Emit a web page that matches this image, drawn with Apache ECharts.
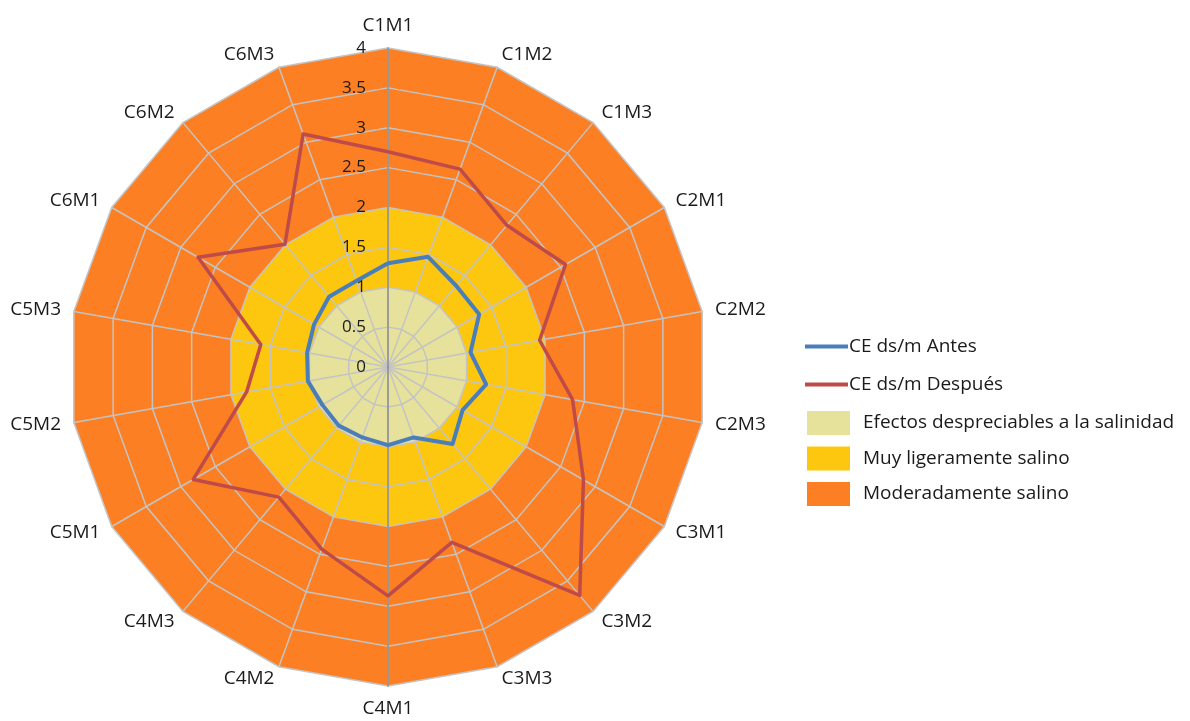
<!DOCTYPE html>
<html>
<head>
<meta charset="utf-8">
<script src="https://cdn.jsdelivr.net/npm/echarts@6/dist/echarts.min.js"></script>
<style>
html,body{margin:0;padding:0;background:#fff;}
#chart{width:1190px;height:721px;}
</style>
</head>
<body>
<div id="chart"></div>
<script>
const categories = ['C1M1','C1M2','C1M3','C2M1','C2M2','C2M3','C3M1','C3M2','C3M3','C4M1','C4M2','C4M3','C5M1','C5M2','C5M3','C6M1','C6M2','C6M3'];
const antes   = [1.30,1.47,1.33,1.32,1.05,1.25,1.08,1.26,0.94,0.98,0.94,0.96,0.95,1.02,1.03,1.07,1.15,1.15];
const despues = [2.70,2.64,2.32,2.57,1.93,2.35,2.83,3.74,2.34,2.87,2.43,2.13,2.82,1.80,1.62,2.75,2.01,3.11];
const bandDespreciable = [1,1,1,1,1,1,1,1,1,1,1,1,1,1,1,1,1,1];
const bandLigero       = [2,2,2,2,2,2,2,2,2,2,2,2,2,2,2,2,2,2];
const bandModerado     = [4,4,4,4,4,4,4,4,4,4,4,4,4,4,4,4,4,4];
const tickLabels = ['0','0.5','1','1.5','2','2.5','3','3.5','4'];
const axisMax = 4;

const FONT = 'Open Sans';
const CX = 388, CY = 367, R = 319;

// ECharts radar runs counter-clockwise; reorder so categories run clockwise from the top
const order = categories.map((_, i) => (categories.length - i) % categories.length);
const cw = arr => order.map(i => arr[i]);

const chart = echarts.init(document.getElementById('chart'), null, {renderer:'canvas'});

function tickFmt(v){
  const i = Math.round(v / 0.5);
  return tickLabels[i] !== undefined ? tickLabels[i] : '';
}

const option = {
  backgroundColor: '#ffffff',
  animation: false,
  legend: [
    {
      orient: 'vertical', left: 800, top: 332, itemGap: 19,
      itemWidth: 43, itemHeight: 4, icon: 'rect',
      textStyle: {fontFamily: FONT, fontSize: 19, color: '#1a1a1a', padding: [0,0,0,-4]},
      data: ['CE ds/m Antes', 'CE ds/m Después']
    },
    {
      orient: 'vertical', left: 802, top: 406, itemGap: 11.5,
      itemWidth: 43, itemHeight: 24, icon: 'rect',
      textStyle: {fontFamily: FONT, fontSize: 19, color: '#1a1a1a', padding: [0,0,0,8]},
      data: ['Efectos despreciables a la salinidad', 'Muy ligeramente salino', 'Moderadamente salino']
    }
  ],
  radar: [
    {
      center: [CX, CY], radius: R, startAngle: 90, shape: 'polygon',
      splitNumber: 8, z: 2,
      indicator: cw(categories).map(c => ({name: c, min: 0, max: axisMax})),
      axisName: {color: '#1a1a1a', fontSize: 19, fontFamily: FONT},
      nameGap: 13,
      axisLine: {lineStyle: {color: '#c4c4c4', width: 1.5}},
      splitLine: {lineStyle: {color: '#c4c4c4', width: 1.5}},
      splitArea: {show: false},
      axisTick: {show: false},
      axisLabel: {show: false}
    },
    {
      center: [CX, CY], radius: R, startAngle: 90, shape: 'polygon',
      splitNumber: 8, z: 2.5,
      indicator: [{name: '', min: 0, max: axisMax}],
      axisName: {show: false},
      axisLine: {lineStyle: {color: '#8c8c8c', width: 1.5}},
      splitLine: {show: false},
      splitArea: {show: false},
      axisTick: {show: false},
      axisLabel: {show: true, color: '#1a1a1a', fontSize: 17, fontFamily: FONT, formatter: tickFmt, margin: 22}
    },
    {
      center: [CX, CY], radius: R, startAngle: 270, shape: 'polygon',
      splitNumber: 8, z: 2.5,
      indicator: [{name: '', min: 0, max: axisMax}],
      axisName: {show: false},
      axisLine: {lineStyle: {color: '#8c8c8c', width: 1.5}},
      splitLine: {show: false},
      splitArea: {show: false},
      axisTick: {show: false},
      axisLabel: {show: false}
    }
  ],
  series: [
    {
      type: 'radar', radarIndex: 0, z: 1, symbol: 'none', silent: true,
      data: [
        {name: 'Moderadamente salino', value: cw(bandModerado),
          itemStyle: {color: '#fc7f24'}, lineStyle: {width: 0, color: '#fc7f24'}, areaStyle: {color: '#fc7f24', opacity: 1}}
      ]
    },
    {
      type: 'radar', radarIndex: 0, z: 1, symbol: 'none', silent: true,
      data: [
        {name: 'Muy ligeramente salino', value: cw(bandLigero),
          itemStyle: {color: '#fdc70f'}, lineStyle: {width: 0, color: '#fdc70f'}, areaStyle: {color: '#fdc70f', opacity: 1}}
      ]
    },
    {
      type: 'radar', radarIndex: 0, z: 1, symbol: 'none', silent: true,
      data: [
        {name: 'Efectos despreciables a la salinidad', value: cw(bandDespreciable),
          itemStyle: {color: '#e6e29b'}, lineStyle: {width: 0, color: '#e6e29b'}, areaStyle: {color: '#e6e29b', opacity: 1}}
      ]
    },
    {
      type: 'radar', radarIndex: 0, z: 3, symbol: 'none',
      data: [
        {name: 'CE ds/m Antes', value: cw(antes),
          itemStyle: {color: '#4a7ebb'}, lineStyle: {width: 4, color: '#4a7ebb'}}
      ]
    },
    {
      type: 'radar', radarIndex: 0, z: 3, symbol: 'none',
      data: [
        {name: 'CE ds/m Después', value: cw(despues),
          itemStyle: {color: '#be4b48'}, lineStyle: {width: 3.5, color: '#be4b48'}}
      ]
    }
  ]
};
chart.setOption(option);
</script>
</body>
</html>
